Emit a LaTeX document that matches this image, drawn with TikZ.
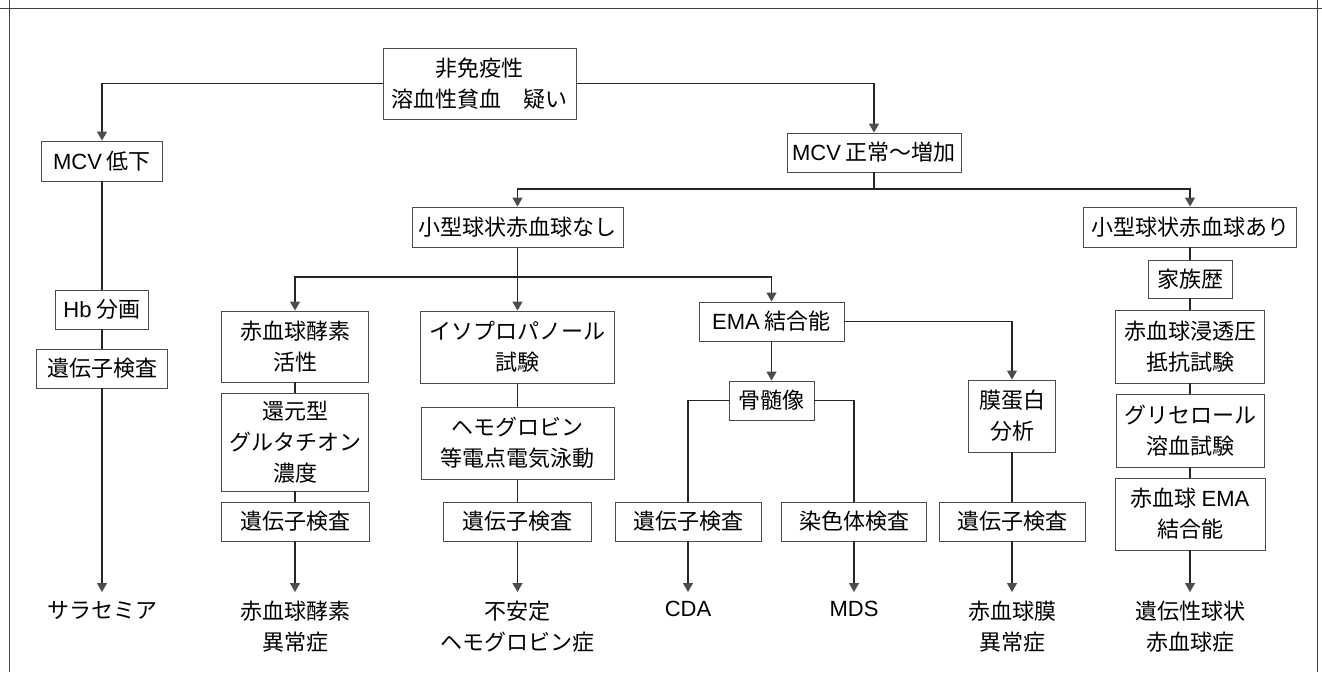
\documentclass[tikz,border=0pt]{standalone}
\usepackage{fontspec}
\setmainfont{Noto Sans CJK JP}
\newfontfamily\latinfam{Liberation Sans}
\newcommand\LatinTxt[1]{{\latinfam\fontsize{22}{31}\selectfont #1}}
\usetikzlibrary{arrows.meta}
\begin{document}
\begin{tikzpicture}[x=1pt,y=-1pt,
  box/.style={draw=black!70, line width=0.9pt, inner sep=0pt, align=center,
    font=\fontsize{22}{31}\selectfont},
  wh/.style 2 args={minimum width=#1pt, minimum height=#2pt},
  term/.style={inner sep=0pt, outer sep=9pt, align=center, anchor=north,
    font=\fontsize{22}{31}\selectfont},
  ln/.style={draw=black!85, line width=1.3pt},
  arr/.style={ln, -{Triangle[width=10pt,length=9pt,color=black!70]}},
  frame/.style={draw=black!75, line width=1pt}]
\useasboundingbox (0,0) rectangle (1322,672);
\draw[frame] (0,8) -- (1322,8);
\draw[frame] (9,0) -- (9,672);
\draw[frame] (1317,0) -- (1317,672);

\node[box, wh={193}{71}] (top) at (479.5,83.5) {非免疫性\\溶血性貧血　疑い};
\node[box, wh={121}{40}] (mcvlow) at (102,161) {\LatinTxt{MCV} 低下};
\node[box, wh={174}{39}] (mcvnorm) at (874,152.5) {\LatinTxt{MCV} 正常～増加};
\node[box, wh={211}{40}] (nashi) at (517.5,227) {小型球状赤血球なし};
\node[box, wh={213}{40}] (ari) at (1190,227) {小型球状赤血球あり};
\node[box, wh={93}{39}] (hb) at (102,309.5) {\LatinTxt{Hb} 分画};
\node[box, wh={131}{39}] (gene1) at (102,368.5) {遺伝子検査};
\node[box, wh={147}{71}] (enz) at (295,346.5) {赤血球酵素\\活性};
\node[box, wh={147}{98}] (gsh) at (295,442) {還元型\\グルタチオン\\濃度};
\node[box, wh={148}{39}] (gene2) at (295,521.5) {遺伝子検査};
\node[box, wh={194}{72}] (ipa) at (517.5,347) {イソプロパノール\\試験};
\node[box, wh={193}{72}] (hbiso) at (517.5,443) {ヘモグロビン\\等電点電気泳動};
\node[box, wh={148}{39}] (gene3) at (517.5,521.5) {遺伝子検査};
\node[box, wh={145}{39}] (ema) at (771.5,321.5) {\LatinTxt{EMA} 結合能};
\node[box, wh={85}{39}] (bm) at (771.5,400.5) {骨髄像};
\node[box, wh={146}{39}] (gene4) at (688,521.5) {遺伝子検査};
\node[box, wh={145}{39}] (chrom) at (854,521.5) {染色体検査};
\node[box, wh={87}{72}] (mem) at (1012,416) {膜蛋白\\分析};
\node[box, wh={146}{39}] (gene6) at (1012,521.5) {遺伝子検査};
\node[box, wh={84}{38}] (fam) at (1190,279) {家族歴};
\node[box, wh={149}{73}] (osm) at (1190,346.5) {赤血球浸透圧\\抵抗試験};
\node[box, wh={148}{73}] (gly) at (1190,430.5) {グリセロール\\溶血試験};
\node[box, wh={150}{72}] (rema) at (1190,514) {赤血球 \LatinTxt{EMA}\\結合能};

\node[term] (thal) at (102,592) {サラセミア};
\node[term] (t2) at (295,592) {赤血球酵素\\異常症};
\node[term] (t3) at (517.5,592) {不安定\\ヘモグロビン症};
\node[term] (cda) at (688,592) {\LatinTxt{CDA}};
\node[term] (mds) at (854,592) {\LatinTxt{MDS}};
\node[term] (t6) at (1012,592) {赤血球膜\\異常症};
\node[term] (t7) at (1190,592) {遺伝性球状\\赤血球症};

\coordinate (j1) at (874,189);
\coordinate (j2) at (517.5,277);

\draw[arr] (top.west) -| (mcvlow.north);
\draw[arr] (top.east) -| (mcvnorm.north);
\draw[ln] (mcvnorm.south) -- (j1);
\draw[arr] (j1) -| (nashi.north);
\draw[arr] (j1) -| (ari.north);

\draw[ln] (mcvlow.south) -- (hb.north);
\draw[ln] (hb.south) -- (gene1.north);
\draw[arr] (gene1.south) -- (thal.north);

\draw[ln] (nashi.south) -- (j2);
\draw[arr] (j2) -| (enz.north);
\draw[arr] (j2) -- (ipa.north);
\draw[arr] (j2) -| (ema.north);

\draw[ln] (enz.south) -- (gsh.north);
\draw[ln] (gsh.south) -- (gene2.north);
\draw[arr] (gene2.south) -- (t2.north);

\draw[ln] (ipa.south) -- (hbiso.north);
\draw[ln] (hbiso.south) -- (gene3.north);
\draw[arr] (gene3.south) -- (t3.north);

\draw[arr] (ema.south) -- (bm.north);
\draw[arr] (ema.east) -| (mem.north);
\draw[ln] (bm.west) -| (gene4.north);
\draw[ln] (bm.east) -| (chrom.north);
\draw[arr] (gene4.south) -- (cda.north);
\draw[arr] (chrom.south) -- (mds.north);
\draw[ln] (mem.south) -- (gene6.north);
\draw[arr] (gene6.south) -- (t6.north);

\draw[ln] (ari.south) -- (fam.north);
\draw[ln] (fam.south) -- (osm.north);
\draw[ln] (osm.south) -- (gly.north);
\draw[ln] (gly.south) -- (rema.north);
\draw[arr] (rema.south) -- (t7.north);
\end{tikzpicture}
\end{document}
